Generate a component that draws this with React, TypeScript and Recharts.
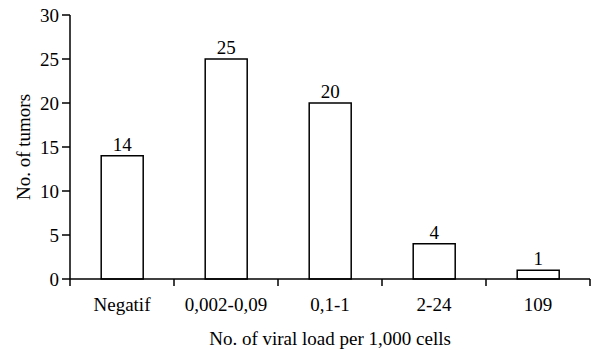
import React from "react";
import { BarChart, Bar, XAxis, YAxis, LabelList } from "recharts";

const categories = ["Negatif", "0,002-0,09", "0,1-1", "2-24", "109"];
const tumors = [14, 25, 20, 4, 1];
const yTicks = [0, 5, 10, 15, 20, 25, 30];

const data = categories.map((c, i) => ({ category: c, tumors: tumors[i] }));

const FONT = "'Liberation Serif', 'Times New Roman', serif";
const FS = 19;
const BAND = (590 - 70) / categories.length;

const XTick = (props: any) => {
  const { x, y, payload, index } = props;
  const top = y - 8;
  return (
    <g>
      <line x1={x - BAND / 2} y1={top} x2={x - BAND / 2} y2={top + 7} stroke="#000" strokeWidth={1.5} />
      {index === categories.length - 1 && (
        <line x1={x + BAND / 2} y1={top} x2={x + BAND / 2} y2={top + 7} stroke="#000" strokeWidth={1.5} />
      )}
      <text x={x} y={top + 32} textAnchor="middle" fontFamily={FONT} fontSize={FS} fill="#000">
        {payload.value}
      </text>
    </g>
  );
};

export default function App() {
  return (
    <div style={{ position: "absolute", left: 0, top: 0, background: "#fff" }}>
      <BarChart
        width={591}
        height={350}
        data={data}
        margin={{ top: 15, right: 1, bottom: 5, left: 20 }}
        barCategoryGap="30%"
      >
        <XAxis
          dataKey="category"
          tickLine={false}
          axisLine={{ stroke: "#000", strokeWidth: 1.5 }}
          tick={<XTick />}
          height={66}
          interval={0}
          label={{
            value: "No. of viral load per 1,000 cells",
            position: "insideBottom",
            offset: 0,
            fontFamily: FONT,
            fontSize: FS,
            fill: "#000",
          }}
        />
        <YAxis
          domain={[0, 30]}
          ticks={yTicks}
          width={50}
          tickSize={8}
          tickMargin={3}
          tickLine={{ stroke: "#000", strokeWidth: 1.5 }}
          axisLine={{ stroke: "#000", strokeWidth: 1.5 }}
          tick={{ fontFamily: FONT, fontSize: FS, fill: "#000" }}
          label={{
            value: "No. of tumors",
            angle: -90,
            position: "insideLeft",
            offset: 3,
            style: { textAnchor: "middle" },
            fontFamily: FONT,
            fontSize: FS,
            fill: "#000",
          }}
        />
        <Bar dataKey="tumors" fill="#fff" stroke="#000" strokeWidth={1.5} isAnimationActive={false}>
          <LabelList dataKey="tumors" position="top" offset={5} fontFamily={FONT} fontSize={FS} fill="#000" />
        </Bar>
      </BarChart>
    </div>
  );
}
